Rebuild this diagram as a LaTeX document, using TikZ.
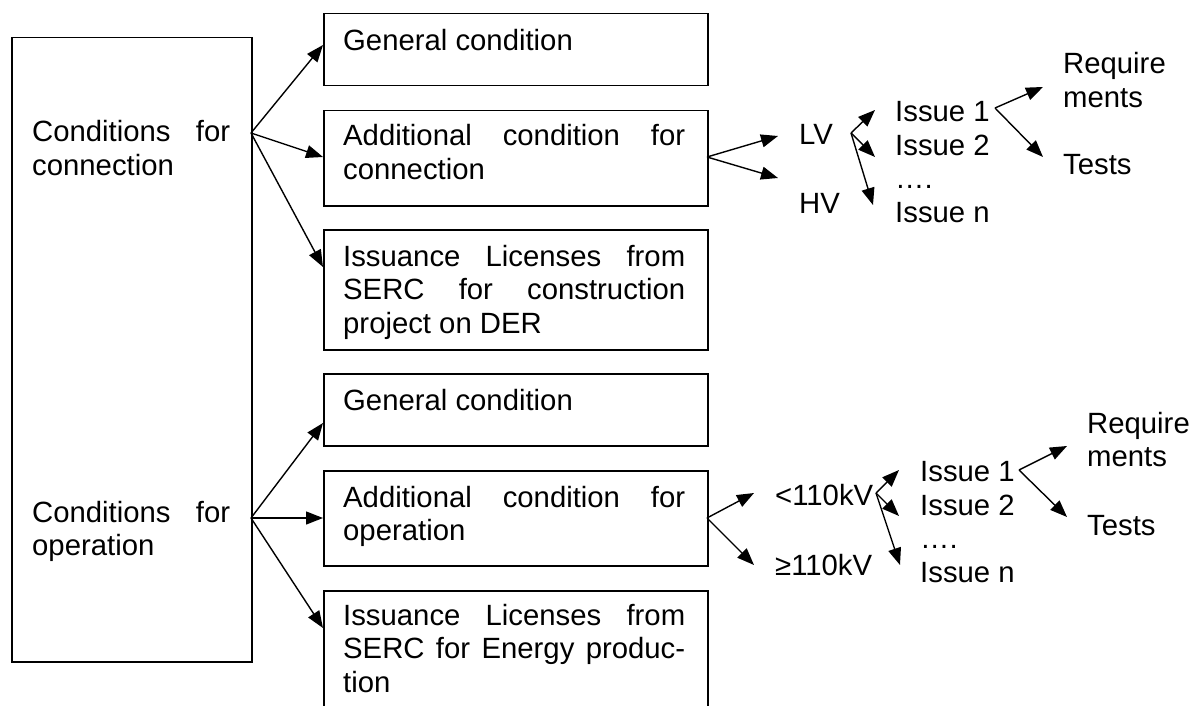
\documentclass[tikz,border=0pt]{standalone}
\usepackage{fontspec}
\setmainfont{Liberation Sans}
\usetikzlibrary{arrows.meta}
\begin{document}
\begin{tikzpicture}[x=1pt,y=-1pt,
  box/.style={draw, line width=1.5pt, inner sep=0pt, anchor=north west},
  txt/.style={inner sep=0pt, anchor=base west, font=\fontsize{29.3}{33.5}\selectfont},
  para/.style={txt, text width=#1, align=justify,
    execute at begin node={\tolerance=10000\hyphenpenalty=10000\emergencystretch=0pt}},
  lines/.style={txt, text width=140pt, align=left},
  arr/.style={line width=1.4pt, -{Triangle[length=17pt,width=13pt]}}]
\useasboundingbox (0,0) rectangle (1197,706);
\clip (0,0) rectangle (1197,706);

% big left box
\node[box, minimum width=240pt, minimum height=624pt] (L) at (11,37) {};
\node[para=198pt] (Lt1) at (32,142) {Conditions for\linebreak connection};
\node[para=198pt] (Lt2) at (32,522) {Conditions for\linebreak operation};

% middle boxes
\node[box, minimum width=384pt, minimum height=72pt]  (b1) at (323,13)  {};
\node[box, minimum width=384pt, minimum height=95pt]  (b2) at (323,110) {};
\node[box, minimum width=384pt, minimum height=120pt] (b3) at (323,229) {};
\node[box, minimum width=384pt, minimum height=72pt]  (b4) at (323,373) {};
\node[box, minimum width=384pt, minimum height=95pt]  (b5) at (323,470) {};
\node[box, minimum width=384pt, minimum height=140pt] (b6) at (323,590) {};

\node[para=342pt] (t1) at (343,51)  {General condition};
\node[para=342pt] (t2) at (343,146) {Additional condition for\linebreak connection};
\node[para=342pt] (t3) at (343,266) {Issuance Licenses from\linebreak SERC for construction\linebreak project on DER};
\node[para=342pt] (t4) at (343,410) {General condition};
\node[para=342pt] (t5) at (343,507) {Additional condition for\linebreak operation};
\node[para=342pt] (t6) at (343,625) {Issuance Licenses from\linebreak SERC for Energy produc-\linebreak tion};

% top right group
\node[txt] (lv) at (799,145) {LV};
\node[txt] (hv) at (799,213) {HV};
\node[txt] (ia1) at (895,122) {Issue 1};
\node[txt] (ia2) at (895,155.5) {Issue 2};
\node[txt] (iad) at (895,189) {….};
\node[txt] (ian) at (895,222.5) {Issue n};
\node[lines] (reqa) at (1063,74) {Require\\ments};
\node[txt] (testa) at (1063,175) {Tests};

% bottom right group
\node[txt] (lo) at (775,505) {<110kV};
\node[txt] (hi) at (775,575) {≥110kV};
\node[txt] (ib1) at (920,481.5) {Issue 1};
\node[txt] (ib2) at (920,515) {Issue 2};
\node[txt] (ibd) at (920,548.5) {….};
\node[txt] (ibn) at (920,582) {Issue n};
\node[lines] (reqb) at (1087,433) {Require\\ments};
\node[txt] (testb) at (1087,535) {Tests};

% coordinates for arrow ends
\coordinate (o1) at (251,133);
\coordinate (e11) at (323,45);
\coordinate (e12) at (323,157);
\coordinate (e13) at (323,267);
\coordinate (o2) at (251,518);
\coordinate (e21) at (323,423);
\coordinate (e22) at (323,518);
\coordinate (e23) at (323,628);
\coordinate (o3) at (707,157);
\coordinate (e31) at (778,136);
\coordinate (e32) at (778,178);
\coordinate (o4) at (851,133);
\coordinate (e41) at (875,110);
\coordinate (e42) at (875,157);
\coordinate (e43) at (873,205);
\coordinate (o5) at (995,108);
\coordinate (e51) at (1043,87);
\coordinate (e52) at (1043,157);
\coordinate (o6) at (707,518);
\coordinate (e61) at (754,493);
\coordinate (e62) at (754,565);
\coordinate (o7) at (876,493);
\coordinate (e71) at (899,470);
\coordinate (e72) at (899,516);
\coordinate (e73) at (900,565);
\coordinate (o8) at (1019,470);
\coordinate (e81) at (1067,446);
\coordinate (e82) at (1067,517);

\foreach \o/\e in {o1/e11,o1/e12,o1/e13,o2/e21,o2/e22,o2/e23,
                   o3/e31,o3/e32,o4/e41,o4/e42,o4/e43,o5/e51,o5/e52,
                   o6/e61,o6/e62,o7/e71,o7/e72,o7/e73,o8/e81,o8/e82}
  \draw[arr] (\o) -- (\e);
\end{tikzpicture}
\end{document}
